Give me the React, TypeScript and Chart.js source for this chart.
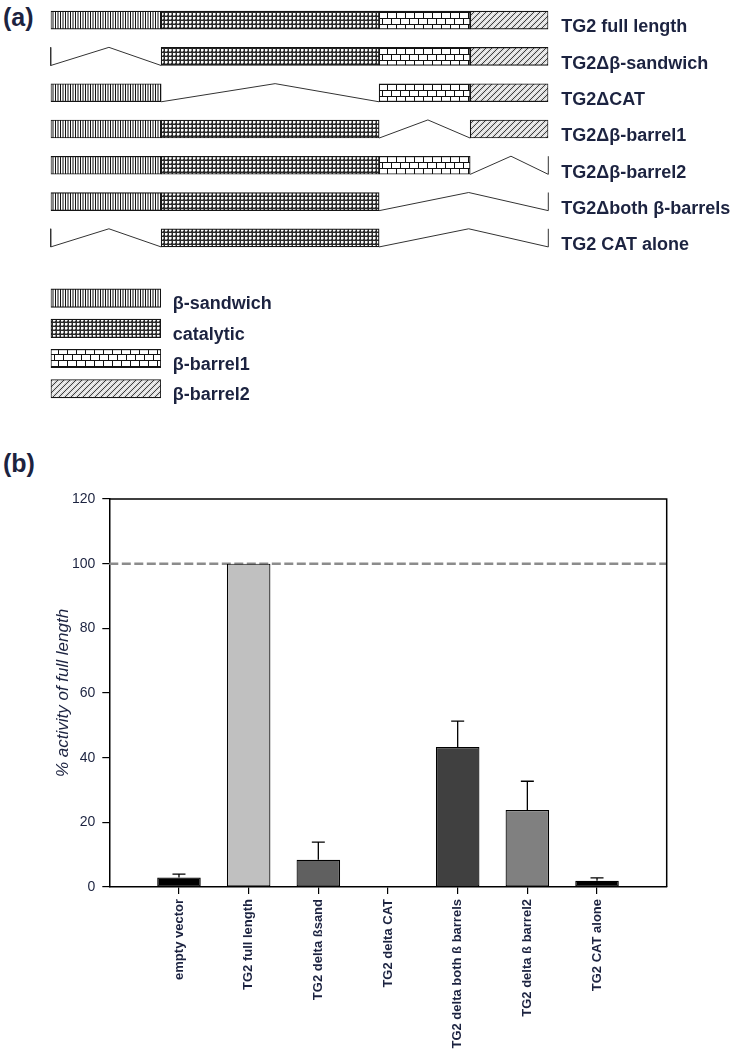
import React, { useEffect, useRef } from 'react';
import { Chart, registerables } from 'chart.js';

Chart.register(...registerables);

const FONT = "'Liberation Sans', Arial, Helvetica, sans-serif";
const INK = '#1c2340';
Chart.defaults.font.family = FONT;

// ---------- Part (a): domain constructs ----------
const constructNames = [
  'TG2 full length',
  'TG2Δβ-sandwich',
  'TG2ΔCAT',
  'TG2Δβ-barrel1',
  'TG2Δβ-barrel2',
  'TG2Δboth β-barrels',
  'TG2 CAT alone',
];
const domainNames = ['β-sandwich', 'catalytic', 'β-barrel1', 'β-barrel2'];
// domain boundaries along the protein (relative units, 0-100)
const domainEdges = [0, 22.2, 66.0, 84.3, 100];
// 1 = domain present in construct
const domainPresence = [
  [1, 1, 1, 1],
  [0, 1, 1, 1],
  [1, 0, 1, 1],
  [1, 1, 0, 1],
  [1, 1, 1, 0],
  [1, 1, 0, 0],
  [0, 1, 0, 0],
];
// apex of each deletion connector (same units)
const deletionPeaks = [[], [11.7], [45.1], [75.8], [92.5], [84.0], [11.7, 84.0]];

// ---------- Part (b): activity bars ----------
const barLabels = [
  'empty vector',
  'TG2 full length',
  'TG2 delta ßsand',
  'TG2 delta CAT',
  'TG2 delta both ß barrels',
  'TG2 delta ß barrel2',
  'TG2 CAT alone',
];
const activity = [2.9, 100, 8.4, 0, 43.3, 23.8, 1.9];
const activityErr = [1.1, 0, 5.5, 0, 8.0, 8.9, 0.9];
const barColors = ['#000000', '#c0c0c0', '#606060', '#808080', '#404040', '#808080', '#000000'];
const yTickStep = 20;
const yMax = 120;
const referenceLevel = 100;

function tile(w: number, h: number, draw: (g: CanvasRenderingContext2D) => void): CanvasPattern {
  const c = document.createElement('canvas');
  c.width = w;
  c.height = h;
  const g = c.getContext('2d')!;
  draw(g);
  return g.createPattern(c, 'repeat')!;
}

function makePatterns(): CanvasPattern[] {
  return [
    tile(5, 4, (g) => {
      g.fillStyle = '#fff';
      g.fillRect(0, 0, 5, 4);
      g.fillStyle = '#111';
      g.fillRect(0, 0, 1, 4);
      g.fillStyle = '#8a8a8a';
      g.fillRect(2, 0, 2, 4);
    }),
    tile(4, 4, (g) => {
      g.fillStyle = '#2a2a2a';
      g.fillRect(0, 0, 4, 4);
      g.fillStyle = '#fff';
      g.fillRect(1, 1, 2, 2);
      g.fillStyle = '#9a9a9a';
      g.fillRect(3, 1, 1, 2);
      g.fillRect(1, 3, 2, 1);
    }),
    tile(9, 12, (g) => {
      g.fillStyle = '#fff';
      g.fillRect(0, 0, 9, 12);
      g.fillStyle = '#111';
      g.fillRect(0, 0, 9, 1);
      g.fillRect(0, 6, 9, 1);
      g.fillRect(0, 0, 1, 6);
      g.fillRect(4, 6, 1, 6);
    }),
    tile(6, 6, (g) => {
      g.fillStyle = '#d8d8d8';
      g.fillRect(0, 0, 6, 6);
      for (let i = 0; i < 6; i++) {
        g.fillStyle = '#3c3c3c';
        g.fillRect(i, 5 - i, 1, 1);
        g.fillStyle = '#ffffff';
        g.fillRect(i, (8 - i) % 6, 1, 1);
      }
    }),
  ];
}

const ROW_HALF = 0.25;

function buildGapLines() {
  const lines: { x: number; y: number }[][] = [];
  const first = domainEdges[0];
  const last = domainEdges[domainEdges.length - 1];
  domainPresence.forEach((pres, r) => {
    let k = 0;
    let g = 0;
    while (k < pres.length) {
      if (!pres[k]) {
        let e = k;
        while (e < pres.length && !pres[e]) e++;
        const s = domainEdges[k];
        const en = domainEdges[e];
        const peak = deletionPeaks[r][g++];
        const top = r - ROW_HALF;
        const bot = r + ROW_HALF;
        const pts: { x: number; y: number }[] = [];
        if (s === first) pts.push({ x: s, y: top });
        pts.push({ x: s, y: bot }, { x: peak, y: top }, { x: en, y: bot });
        if (en === last) pts.push({ x: en, y: top });
        lines.push(pts);
        k = e;
      } else k++;
    }
  });
  return lines;
}

function hiddenLinear(min: number, max: number, reverse = false) {
  return {
    type: 'linear',
    display: false,
    min,
    max,
    reverse,
    offset: false,
    beginAtZero: false,
    grace: 0,
    grid: { offset: false },
  };
}

function labelAxis(names: string[], shift: number, width: number, pad: number) {
  const n = names.length;
  return {
    type: 'linear',
    position: 'right',
    min: -0.5 - shift,
    max: n - 0.5 - shift,
    reverse: true,
    offset: false,
    beginAtZero: false,
    grid: { display: false, drawTicks: false, offset: false },
    border: { display: false },
    afterBuildTicks: (s: any) => {
      s.ticks = names.map((_, i) => ({ value: i }));
    },
    afterFit: (s: any) => {
      s.width = width;
      s.paddingTop = 0;
      s.paddingBottom = 0;
    },
    ticks: {
      autoSkip: false,
      padding: pad,
      color: INK,
      font: { size: 18, weight: 'bold', family: FONT },
      callback: (v: number) => names[Math.round(v)] ?? '',
    },
  };
}

function constructConfig(patterns: CanvasPattern[]): any {
  const gapLines = buildGapLines();
  const barSets = domainNames.map((name, d) => ({
    type: 'bar',
    label: name,
    xAxisID: 'x',
    yAxisID: 'y',
    data: domainPresence
      .map((pres, r) => (pres[d] ? { x: [domainEdges[d], domainEdges[d + 1]], y: r } : null))
      .filter(Boolean),
    backgroundColor: patterns[d],
    borderColor: '#151515',
    borderWidth: 1.2,
    borderSkipped: false,
    barThickness: 18,
    grouped: false,
  }));
  const lineSets = gapLines.map((pts) => ({
    type: 'line',
    xAxisID: 'x',
    yAxisID: 'y',
    data: pts,
    borderColor: '#333',
    borderWidth: 1,
    pointRadius: 0,
    fill: false,
    tension: 0,
    clip: false,
  }));
  return {
    type: 'bar',
    data: { datasets: [...barSets, ...lineSets] },
    options: {
      indexAxis: 'y',
      animation: false,
      responsive: false,
      devicePixelRatio: 1,
      events: [],
      layout: { padding: { left: 50.7, right: 0, top: 2, bottom: 14 } },
      plugins: { legend: { display: false }, tooltip: { enabled: false } },
      scales: {
        x: hiddenLinear(domainEdges[0], domainEdges[domainEdges.length - 1]),
        y: hiddenLinear(-0.5, constructNames.length - 0.5, true),
        yLab: labelAxis(constructNames, 0.2, 182.7, 13),
      },
    },
  };
}

function legendConfig(patterns: CanvasPattern[]): any {
  return {
    type: 'bar',
    data: {
      datasets: [
        {
          xAxisID: 'x',
          yAxisID: 'y',
          data: domainNames.map((_, i) => ({ x: [0, 1], y: i })),
          backgroundColor: patterns,
          borderColor: '#151515',
          borderWidth: 1.2,
          borderSkipped: false,
          barThickness: 18.5,
          grouped: false,
        },
      ],
    },
    options: {
      indexAxis: 'y',
      animation: false,
      responsive: false,
      devicePixelRatio: 1,
      events: [],
      layout: { padding: { left: 50.7, right: 0, top: 13.1, bottom: 16.2 } },
      plugins: { legend: { display: false }, tooltip: { enabled: false } },
      scales: {
        x: hiddenLinear(0, 1),
        y: hiddenLinear(-0.5, domainNames.length - 0.5, true),
        yLab: labelAxis(domainNames, 0.21, 570, 11.7),
      },
    },
  };
}

const framePlugin = {
  id: 'frame',
  afterDatasetsDraw(chart: any) {
    const { ctx, chartArea: a } = chart;
    ctx.save();
    ctx.strokeStyle = '#000';
    ctx.lineWidth = 1.5;
    ctx.beginPath();
    ctx.moveTo(a.left, a.top);
    ctx.lineTo(a.right, a.top);
    ctx.lineTo(a.right, a.bottom);
    ctx.stroke();
    ctx.restore();
  },
};

const errorBarPlugin = {
  id: 'errorBars',
  afterDatasetsDraw(chart: any) {
    const { ctx } = chart;
    const yS = chart.scales.y;
    const meta = chart.getDatasetMeta(0);
    ctx.save();
    ctx.strokeStyle = '#000';
    ctx.lineWidth = 1.3;
    activity.forEach((v, i) => {
      const e = activityErr[i];
      if (!e) return;
      const el = meta.data[i + 1];
      const px = el.x;
      const y0 = yS.getPixelForValue(v);
      const y1 = yS.getPixelForValue(v + e);
      ctx.beginPath();
      ctx.moveTo(px, y0);
      ctx.lineTo(px, y1);
      ctx.moveTo(px - 6.5, y1);
      ctx.lineTo(px + 6.5, y1);
      ctx.stroke();
    });
    ctx.restore();
  },
};

function activityConfig(): any {
  const xLabels = ['', ...barLabels, ''];
  const lastIdx = xLabels.length - 1;
  return {
    type: 'bar',
    data: {
      labels: xLabels,
      datasets: [
        {
          type: 'bar',
          data: [null, ...activity, null],
          backgroundColor: ['rgba(0,0,0,0)', ...barColors, 'rgba(0,0,0,0)'],
          borderColor: '#000',
          borderWidth: (c: any) => (c.raw ? 1.2 : 0),
          borderSkipped: false,
          barPercentage: 0.625,
          categoryPercentage: 1,
          order: 1,
        },
        {
          type: 'line',
          data: xLabels.map(() => referenceLevel),
          borderColor: '#8c8c8c',
          borderWidth: 2.5,
          borderDash: [9, 3.5],
          pointRadius: 0,
          fill: false,
          order: 2,
        },
      ],
    },
    plugins: [framePlugin, errorBarPlugin],
    options: {
      animation: false,
      responsive: false,
      devicePixelRatio: 1,
      events: [],
      layout: { padding: { left: 0, right: 64.3, top: 59, bottom: 0 } },
      plugins: { legend: { display: false }, tooltip: { enabled: false } },
      scales: {
        x: {
          type: 'category',
          offset: false,
          grid: {
            offset: false,
            drawOnChartArea: false,
            drawTicks: true,
            tickLength: 7,
            color: '#000',
            lineWidth: 1.2,
            tickColor: (c: any) => (c.index === 0 || c.index === lastIdx ? 'rgba(0,0,0,0)' : '#000'),
          },
          border: { display: true, color: '#000', width: 1.5 },
          afterFit: (s: any) => {
            s.height = 163;
          },
          ticks: {
            autoSkip: false,
            minRotation: 90,
            maxRotation: 90,
            padding: 5,
            color: INK,
            font: { size: 13, weight: 'bold', family: FONT },
          },
        },
        y: {
          type: 'linear',
          min: 0,
          max: yMax,
          grid: { drawOnChartArea: false, drawTicks: true, tickLength: 7, color: '#000', lineWidth: 1.2 },
          border: { display: true, color: '#000', width: 1.5 },
          afterFit: (s: any) => {
            s.width = 109.3;
          },
          ticks: {
            stepSize: yTickStep,
            padding: 7,
            color: INK,
            font: { size: 14, family: FONT },
          },
          title: {
            display: true,
            text: '% activity of full length',
            color: INK,
            font: { size: 17, style: 'italic', family: FONT },
            padding: { top: 53, bottom: 0 },
          },
        },
      },
    },
  };
}

export default function App() {
  const c1 = useRef<HTMLCanvasElement>(null);
  const c2 = useRef<HTMLCanvasElement>(null);
  const c3 = useRef<HTMLCanvasElement>(null);

  useEffect(() => {
    const patterns = makePatterns();
    const charts = [
      new Chart(c1.current!, constructConfig(patterns)),
      new Chart(c2.current!, legendConfig(patterns)),
      new Chart(c3.current!, activityConfig()),
    ];
    return () => charts.forEach((c) => c.destroy());
  }, []);

  const panelLabel: React.CSSProperties = {
    position: 'absolute',
    font: `bold 25px ${FONT}`,
    lineHeight: '25px',
    color: INK,
    margin: 0,
  };

  return (
    <div style={{ position: 'absolute', left: 0, top: 0, width: 731, height: 1050, background: '#fff', overflow: 'hidden' }}>
      <div style={{ ...panelLabel, left: 3, top: 5 }}>(a)</div>
      <canvas ref={c1} width={731} height={270} style={{ position: 'absolute', left: 0, top: 0 }} />
      <canvas ref={c2} width={731} height={150} style={{ position: 'absolute', left: 0, top: 270 }} />
      <div style={{ ...panelLabel, left: 3, top: 451 }}>(b)</div>
      <canvas ref={c3} width={731} height={610} style={{ position: 'absolute', left: 0, top: 440 }} />
    </div>
  );
}
